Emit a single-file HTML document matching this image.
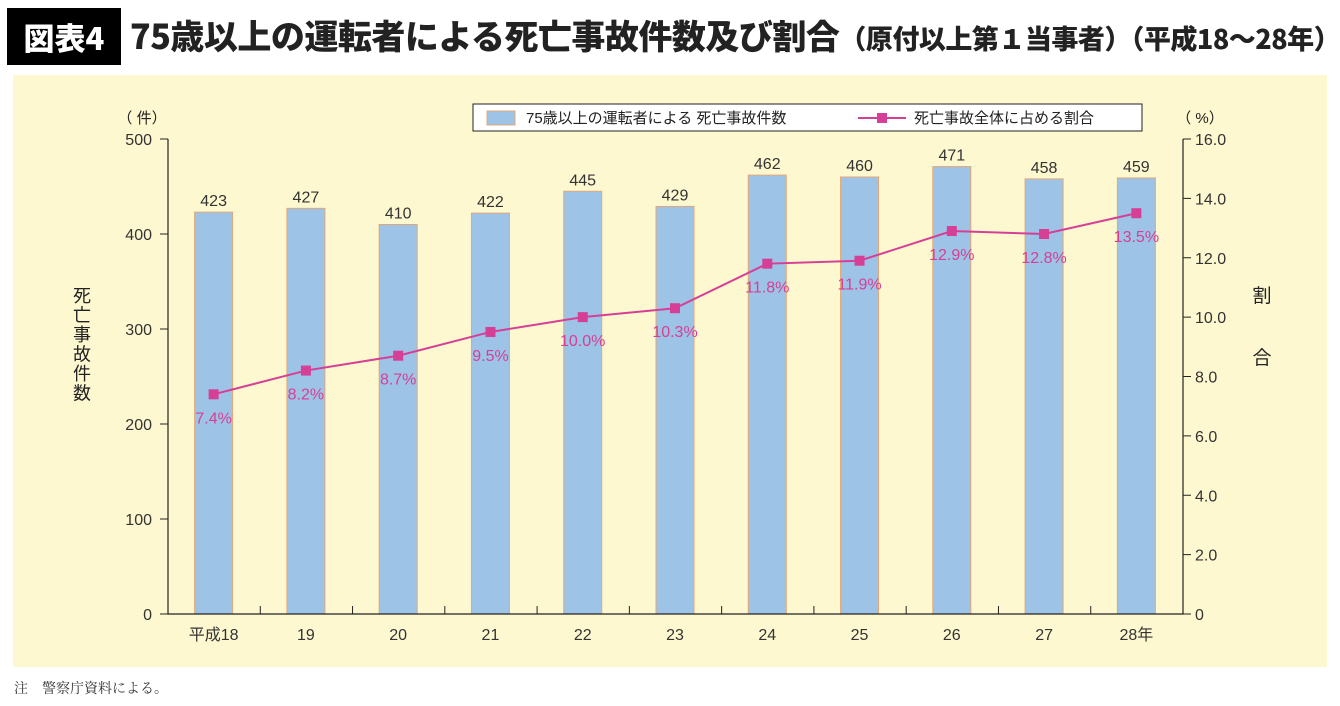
<!DOCTYPE html>
<html><head><meta charset="utf-8"><style>
body{margin:0;width:1340px;height:706px;background:#fff;position:relative;overflow:hidden;font-family:"Liberation Sans","Noto Sans CJK JP",sans-serif}
#badge{position:absolute;left:7px;top:8px;width:114px;height:57px;background:#000;color:#fff;font:900 31px "Noto Sans CJK JP",sans-serif;line-height:57px;text-align:center}
#title{position:absolute;left:130px;top:6px;height:57px;line-height:57px;font-weight:900;font-family:"Noto Sans CJK JP",sans-serif;font-size:34px;color:#222;white-space:nowrap;letter-spacing:-0.5px}
#title span{font-size:27px;letter-spacing:-0.5px}
#bg{position:absolute;left:13px;top:75px;width:1314px;height:592px;background:#fdf8d0}
#note{position:absolute;left:14px;top:678px;font:14px "Noto Serif CJK SC",serif;color:#333}
svg{position:absolute;left:0;top:0}
</style></head><body>
<div id="badge">図表4</div>
<div id="title">75歳以上の運転者による死亡事故件数及び割合<span>（原付以上第１当事者）（平成18〜28年）</span></div>
<div id="bg"></div>
<div id="note">注　警察庁資料による。</div>
<svg id="chart" width="1340" height="706"></svg>
<script>
const categories=["平成18","19","20","21","22","23","24","25","26","27","28年"];
const counts=[423,427,410,422,445,429,462,460,471,458,459];
const ratios=[7.4,8.2,8.7,9.5,10.0,10.3,11.8,11.9,12.9,12.8,13.5];
const leftTicks=[0,100,200,300,400,500];
const rightTicks=[0,2.0,4.0,6.0,8.0,10.0,12.0,14.0,16.0];
const svg=document.getElementById('chart');const NS='http://www.w3.org/2000/svg';
function mk(t,a,p){const e=document.createElementNS(NS,t);for(const k in a)e.setAttribute(k,a[k]);(p||svg).appendChild(e);return e;}
const x0=168,x1=1183,yTop=139,yBot=614;
const band=(x1-x0)/categories.length;
const xC=i=>x0+band*(i+0.5)-0.5;
const yL=v=>yBot-(v/500)*(yBot-yTop);
const yR=v=>yBot-(v/16)*(yBot-yTop);
const font='"Liberation Sans","Noto Sans CJK JP",sans-serif';
counts.forEach((v,i)=>{
 const r=mk('rect',{x:xC(i)-19,y:yL(v),width:38,height:yBot-yL(v),fill:'#9dc3e6',stroke:'#e3a878','stroke-width':1});
 
 const t=mk('text',{x:xC(i),y:yL(v)-6,'text-anchor':'middle','font-size':16,fill:'#333','font-family':font});t.textContent=v;
 
});
mk('path',{d:`M${x0},${yTop} V${yBot} H${x1} V${yTop}`,fill:'none',stroke:'#222','stroke-width':1.2});
leftTicks.forEach(v=>{mk('line',{x1:x0-8,x2:x0,y1:yL(v),y2:yL(v),stroke:'#222'});
 const t=mk('text',{x:x0-16,y:yL(v)+6,'text-anchor':'end','font-size':16,fill:'#333','font-family':font});t.textContent=v;
 });
rightTicks.forEach(v=>{mk('line',{x1:x1,x2:x1+8,y1:yR(v),y2:yR(v),stroke:'#222'});
 const t=mk('text',{x:x1+12,y:yR(v)+6,'font-size':16,fill:'#333','font-family':font});t.textContent=v===0?'0':v.toFixed(1);
 });
categories.forEach((c,i)=>{if(i>0)mk('line',{x1:x0+band*i,x2:x0+band*i,y1:yBot,y2:yBot-8,stroke:'#222'});
 const t=mk('text',{x:xC(i),y:640,'text-anchor':'middle','font-size':16,fill:'#333','font-family':font});t.textContent=c;
 });
const pl=mk('polyline',{points:ratios.map((v,i)=>xC(i)+','+yR(v)).join(' '),fill:'none',stroke:'#d63f96','stroke-width':2});

ratios.forEach((v,i)=>{const m=mk('rect',{x:xC(i)-5,y:yR(v)-5,width:10,height:10,fill:'#d63f96'});
 
 const t=mk('text',{x:xC(i),y:yR(v)+29,'text-anchor':'middle','font-size':16,fill:'#d63f96','font-family':font});t.textContent=v.toFixed(1)+'%';
 });
function txt(s,x,y,sz,name,anchor){const t=mk('text',{x:x,y:y,'font-size':sz,fill:'#222','font-family':font,'text-anchor':anchor||'start'});t.textContent=s;return t;}
txt('（ 件）',142,123,15,'left-unit','middle');
txt('（ %）',1200,123,15,'right-unit','middle');
['死','亡','事','故','件','数'].forEach((c,i)=>txt(c,82,302+i*19.5,18,'y-left-title','middle'));
txt('割',1262,302,19,'y-right-title','middle');txt('合',1262,364,19,'y-right-title','middle');
const lg=mk('g',{});
mk('rect',{x:473,y:104,width:669,height:27,fill:'#fff',stroke:'#222','stroke-width':1},lg);
mk('rect',{x:487,y:111,width:28,height:14,fill:'#9dc3e6',stroke:'#e3a878'},lg);
const l1=mk('text',{x:526,y:123,'font-size':15,fill:'#222','font-family':font},lg);l1.textContent='75歳以上の運転者による 死亡事故件数';

mk('line',{x1:858,x2:906,y1:118,y2:118,stroke:'#d63f96','stroke-width':2},lg);
mk('rect',{x:877,y:113,width:10,height:10,fill:'#d63f96'},lg);
const l2=mk('text',{x:914,y:123,'font-size':15,fill:'#222','font-family':font},lg);l2.textContent='死亡事故全体に占める割合';

</script>
</body></html>
